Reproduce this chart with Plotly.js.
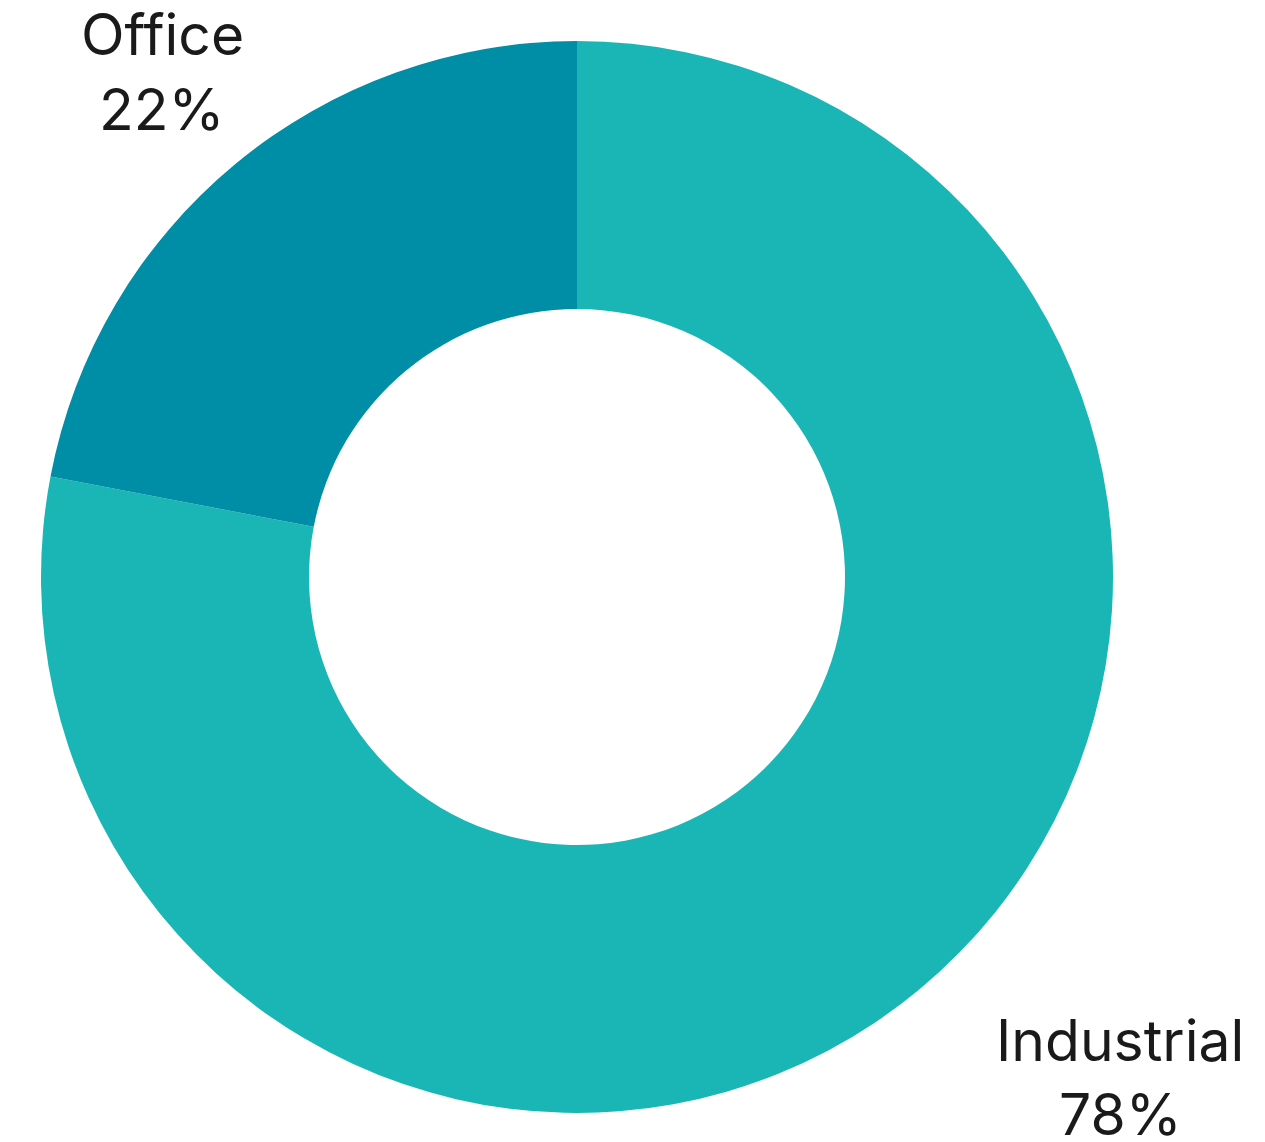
<!DOCTYPE html>
<html>
<head>
<meta charset="utf-8">
<script src="https://cdn.plot.ly/plotly-3.0.1.min.js"></script>
<style>html,body{margin:0;padding:0;background:#fff;}#chart{width:1265px;height:1142px;}</style>
</head>
<body>
<div id="chart"></div>
<script>
const categories = ["Industrial", "Office"];
const values = [78, 22];
const percentLabels = ["78%", "22%"];
const colors = ["#1AB6B6", "#008DA6"];

const W = 1265, H = 1142;
const labelPos = {
  "Office": {x: 162, y1: 34.5, y2: 109.5},
  "Industrial": {x: 1120, y1: 1040, y2: 1114.5}
};
const font = {family: "Inter, 'Noto Sans', sans-serif", size: 57, color: "#1a1a1a"};
const annotations = [];
categories.forEach((c, i) => {
  const p = labelPos[c];
  annotations.push({text: c, x: p.x / W, y: 1 - p.y1 / H, xref: "paper", yref: "paper",
    xanchor: "center", yanchor: "middle", showarrow: false, font: font});
  annotations.push({text: percentLabels[i], x: p.x / W, y: 1 - p.y2 / H, xref: "paper", yref: "paper",
    xanchor: "center", yanchor: "middle", showarrow: false, font: font});
});

Plotly.newPlot("chart", [{
  type: "pie",
  labels: categories,
  values: values,
  hole: 0.5,
  sort: false,
  direction: "clockwise",
  rotation: 0,
  textinfo: "none",
  marker: {colors: colors, line: {width: 0}},
  domain: {x: [41 / W, 1113 / W], y: [1 - 1113 / H, 1 - 41 / H]},
  showlegend: false,
  hoverinfo: "label+percent"
}], {
  width: W, height: H,
  margin: {l: 0, r: 0, t: 0, b: 0},
  paper_bgcolor: "#fff",
  showlegend: false,
  annotations: annotations
}, {displayModeBar: false, staticPlot: true});
</script>
</body>
</html>
